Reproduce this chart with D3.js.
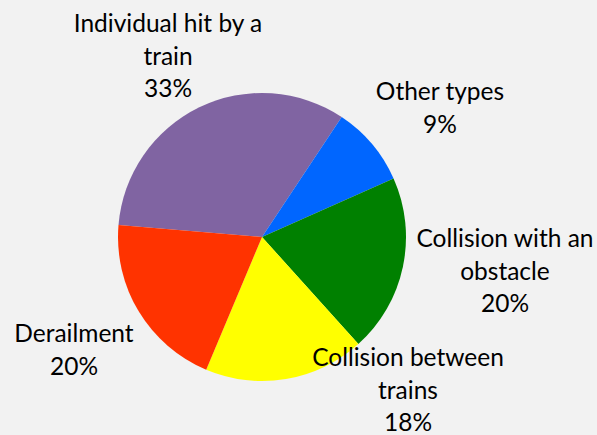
<!DOCTYPE html>
<html>
<head>
<meta charset="utf-8">
<script src="https://cdn.jsdelivr.net/npm/d3@7"></script>
<style>
  html, body { margin: 0; padding: 0; background: #f2f2f2; }
  svg { display: block; }
  text { font-family: Lato, "Open Sans", sans-serif; fill: #000; }
</style>
</head>
<body>
<div id="chart"></div>
<script>
// categories in clockwise order, starting with the purple slice
var categories = [ 'Individual hit by a train', 'Other types', 'Collision with an obstacle', 'Collision between trains', 'Derailment' ];
var shares     = [ 33, 9, 20, 18, 20 ];
var labelLines = [
	[ 'Individual hit by a', 'train' ],
	[ 'Other types' ],
	[ 'Collision with an', 'obstacle' ],
	[ 'Collision between', 'trains' ],
	[ 'Derailment' ]
];

var COLORS = [ '#8064a2', '#0066ff', '#008000', '#ffff00', '#ff3300' ];

// label centres (px), as placed by the original chart
var LABEL_POS = [ [ 168, 32 ], [ 440, 100 ], [ 505, 247 ], [ 408, 366 ], [ 74, 342 ] ];

var width = 597, height = 435;
var cx = 262, cy = 237, radius = 144;
var lineH = 32.5;

var svg = d3.select( '#chart' ).append( 'svg' )
	.attr( 'width', width )
	.attr( 'height', height );

var rows = categories.map( function ( c, i ) {
	return { name: c, value: shares[ i ], lines: labelLines[ i ], color: COLORS[ i ], pos: LABEL_POS[ i ] };
} );

var startDeg = -85.2;
var pie = d3.pie()
	.sort( null )
	.value( function ( d ) { return d.value; } )
	.startAngle( startDeg * Math.PI / 180 )
	.endAngle( ( startDeg + 360 ) * Math.PI / 180 );

var arc = d3.arc().innerRadius( 0 ).outerRadius( radius );

var g = svg.append( 'g' ).attr( 'transform', 'translate(' + cx + ',' + cy + ')' );

g.selectAll( 'path' )
	.data( pie( rows ) )
	.join( 'path' )
	.attr( 'd', arc )
	.attr( 'fill', function ( d ) { return d.data.color; } );

// labels
var lbl = svg.selectAll( 'text.lbl' )
	.data( rows )
	.join( 'text' )
	.attr( 'class', 'lbl' )
	.attr( 'text-anchor', 'middle' )
	.style( 'font-size', '24.5px' );

lbl.each( function ( d ) {
	var t = d3.select( this );
	var lines = d.lines.concat( [ d.value + '%' ] );
	lines.forEach( function ( s, i ) {
		t.append( 'tspan' )
			.attr( 'x', d.pos[ 0 ] )
			.attr( 'y', d.pos[ 1 ] + i * lineH )
			.text( s );
	} );
} );
</script>
</body>
</html>
